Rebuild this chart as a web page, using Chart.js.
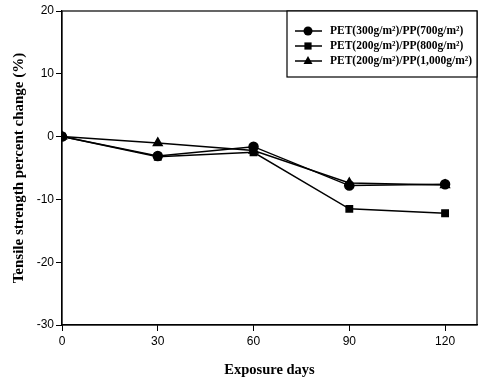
<!DOCTYPE html>
<html><head><meta charset="utf-8">
<script src="https://cdn.jsdelivr.net/npm/chart.js@4"></script>
<style>html,body{margin:0;padding:0;background:#fff}#wrap{width:481px;height:383px}</style>
</head><body><div id="wrap"><canvas id="c" width="481" height="383"></canvas></div>
<script>
const days = [0, 30, 60, 90, 120];
const xTicks = [0, 30, 60, 90, 120];
const yTicks = [-30, -20, -10, 0, 10, 20];
const seriesLabels = ['PET(300g/m\u00B2)/PP(700g/m\u00B2)', 'PET(200g/m\u00B2)/PP(800g/m\u00B2)', 'PET(200g/m\u00B2)/PP(1,000g/m\u00B2)'];
const pet300pp700 = [0, -3.1, -1.6, -7.8, -7.6];
const pet200pp800 = [0, -3.2, -2.5, -11.5, -12.2];
const pet200pp1000 = [0, -1.0, -2.2, -7.4, -7.7];
const markers = ['circle', 'rect', 'triangle'];
const markerSizes = [4.5, 4.5, 5];

function pts(vals){ return days.map((d,i)=>({x:d,y:vals[i]})); }
const seriesVals = [pet300pp700, pet200pp800, pet200pp1000];

const datasets = seriesVals.map((v,i)=>({
  label: seriesLabels[i], data: pts(v), borderColor:'#000', backgroundColor:'#000',
  borderWidth:1.5, pointStyle: markers[i], pointRadius: markerSizes[i], pointHoverRadius: markerSizes[i], tension:0
}));

const frame = {
  id:'frame',
  afterDatasetsDraw(chart){
    const {ctx, chartArea:a} = chart;
    ctx.save();
    ctx.strokeStyle='#000'; ctx.lineWidth=1.2;
    ctx.strokeRect(a.left, a.top, a.right-a.left, a.bottom-a.top);
    const bx=287, by=a.top, bw=a.right-bx, bh=66;
    ctx.fillStyle='#fff'; ctx.fillRect(bx,by,bw,bh);
    ctx.strokeRect(bx,by,bw,bh);
    ctx.font='bold 11.5px "Liberation Serif", "Times New Roman", serif';
    ctx.textBaseline='middle';
    chart.data.datasets.forEach((ds,i)=>{
      const y = by + 20 + i*15;
      ctx.beginPath(); ctx.lineWidth=1.5; ctx.moveTo(295,y); ctx.lineTo(322,y); ctx.stroke();
      ctx.fillStyle='#000';
      const r = markerSizes[i], cx=308;
      ctx.beginPath();
      if(ds.pointStyle==='circle'){ ctx.arc(cx,y,r,0,Math.PI*2); }
      else if(ds.pointStyle==='rect'){ ctx.rect(cx-r*0.8,y-r*0.8,r*1.6,r*1.6); }
      else { ctx.moveTo(cx,y-r); ctx.lineTo(cx+r*0.9,y+r*0.6); ctx.lineTo(cx-r*0.9,y+r*0.6); ctx.closePath(); }
      ctx.fill();
      ctx.fillText(ds.label, 330, y);
    });
    ctx.restore();
  }
};

new Chart(document.getElementById('c'), {
  type:'line',
  data:{datasets},
  options:{
    responsive:false, animation:false, devicePixelRatio:1,
    layout:{autoPadding:false, padding:{top:11,right:4,left:0,bottom:0}},
    plugins:{legend:{display:false}, tooltip:{enabled:false}},
    scales:{
      x:{type:'linear', min:0, max:130,
        afterBuildTicks(s){ s.ticks = xTicks.map(v=>({value:v})); },
        afterFit(s){ s.height = 383 - 325; },
        grid:{display:true, drawOnChartArea:false, color:'#000', tickLength:6, lineWidth:1},
        border:{display:true,color:'#000',width:1.2},
        ticks:{color:'#000', font:{family:'"Liberation Sans", Arial, sans-serif', size:12}, padding:3, maxRotation:0},
        title:{display:true, text:'Exposure days', color:'#000', font:{family:'"Liberation Serif", "Times New Roman", serif', size:14.5, weight:'bold'}, padding:{top:0,bottom:4}}
      },
      y:{min:-30, max:20,
        afterBuildTicks(s){ s.ticks = yTicks.map(v=>({value:v})); },
        afterFit(s){ s.width = 62; },
        grid:{display:true, drawOnChartArea:false, color:'#000', tickLength:6, lineWidth:1},
        border:{display:true,color:'#000',width:1.2},
        ticks:{color:'#000', font:{family:'"Liberation Sans", Arial, sans-serif', size:12}, padding:2},
        title:{display:true, text:'Tensile strength percent change (%)', color:'#000', font:{family:'"Liberation Serif", "Times New Roman", serif', size:15, weight:'bold'}, padding:{top:10,bottom:0}}
      }
    }
  },
  plugins:[frame]
});
</script></body></html>
